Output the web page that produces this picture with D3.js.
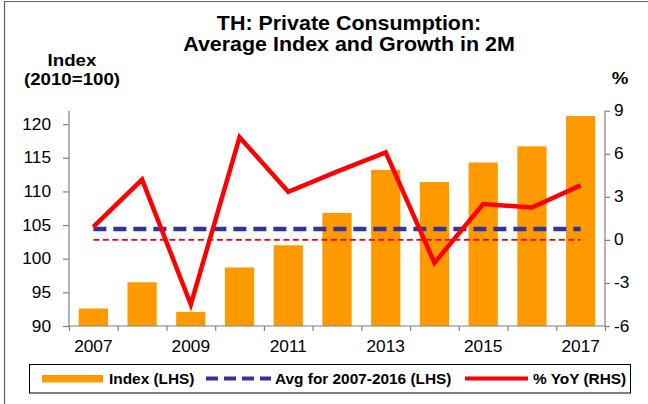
<!DOCTYPE html>
<html>
<head>
<meta charset="utf-8">
<script src="https://cdn.jsdelivr.net/npm/d3@7"></script>
<style>
  html, body { margin: 0; padding: 0; background: #fff; }
  svg { display: block; }
  text { font-family: "Liberation Sans", Arial, sans-serif; fill: #000; }
</style>
</head>
<body>
<svg id="chart" width="648" height="404"></svg>
<script>
// ---- Data ----
const years = ["2007","2008","2009","2010","2011","2012","2013","2014","2015","2016","2017"];
const indexValues = [92.6, 96.5, 92.1, 98.7, 102.0, 106.8, 113.2, 111.4, 114.3, 116.7, 121.2];
const yoyValues = [0.9, 4.2, -4.5, 7.15, 3.35, 4.75, 6.1, -1.6, 2.5, 2.25, 3.8];
const avgValue = [104.4];
const zeroRef = [0];
const leftTicks = [90, 95, 100, 105, 110, 115, 120];
const rightTicks = [-6, -3, 0, 3, 6, 9];
const xLabelYears = ["2007","2009","2011","2013","2015","2017"];
const titleLines = ["TH: Private Consumption:", "Average Index and Growth in 2M"];
const leftAxisTitle = ["Index", "(2010=100)"];
const rightAxisTitle = ["%"];
const legendLabels = ["Index (LHS)", "Avg for 2007-2016 (LHS)", "% YoY (RHS)"];

// ---- Layout ----
const svg = d3.select("#chart");
const SX = 1.1;
const plot = { x0: 69, x1: 605, yTop: 110.7, yBot: 326 };
const axisColor = "#808080";

const x = d3.scaleBand().domain(years).range([plot.x0, plot.x1]).paddingInner(0.4).paddingOuter(0.2);
const yL = d3.scaleLinear().domain([90, 122]).range([plot.yBot, plot.yTop]);
const yR = d3.scaleLinear().domain([-6, 9]).range([plot.yBot, plot.yTop]);
const cx = d => x(d) + x.bandwidth() / 2;

function txt(g, s, px, py, size, anchor, bold, sx) {
  return g.append("text")
    .attr("transform", `translate(${px},${py}) scale(${sx || SX},1)`)
    .attr("text-anchor", anchor)
    .attr("font-size", size)
    .attr("font-weight", bold ? "bold" : "normal")
    .text(s);
}

svg.append("rect").attr("width", 648).attr("height", 404).attr("fill", "#fff");

// frame
svg.append("path").attr("d", "M4.5,404 V1.5 H648").attr("fill", "none").attr("stroke", "#606060").attr("stroke-width", 1.2);

// titles
titleLines.forEach((t, i) => txt(svg, t, 349, 30 + i * 21, 19.5, "middle", true));
leftAxisTitle.forEach((t, i) => txt(svg, t, 72, 66 + i * 19, 17, "middle", true));
txt(svg, rightAxisTitle[0], 620, 84, 17, "middle", true);

// bars
svg.append("g").selectAll("rect").data(years).join("rect")
  .attr("x", d => x(d))
  .attr("width", x.bandwidth())
  .attr("y", (d, i) => yL(indexValues[i]))
  .attr("height", (d, i) => yL(90) - yL(indexValues[i]))
  .attr("fill", "#FF9900");

// avg line (blue dashed)
svg.append("line")
  .attr("x1", cx(years[0])).attr("x2", cx(years[years.length - 1]))
  .attr("y1", yL(avgValue[0])).attr("y2", yL(avgValue[0]))
  .attr("stroke", "#333399").attr("stroke-width", 4.5)
  .attr("stroke-dasharray", "13,7");

// zero reference (thin red dashed)
svg.append("line")
  .attr("x1", cx(years[0])).attr("x2", cx(years[years.length - 1]))
  .attr("y1", yR(zeroRef[0])).attr("y2", yR(zeroRef[0]))
  .attr("stroke", "#FF0000").attr("stroke-width", 1.6)
  .attr("stroke-dasharray", "6,3.5");

// yoy line
const line = d3.line().x((d, i) => cx(years[i])).y(d => yR(d));
svg.append("path").datum(yoyValues)
  .attr("d", line)
  .attr("fill", "none").attr("stroke", "#FF0000").attr("stroke-width", 4.5)
  .attr("stroke-linejoin", "miter");

// axes
const gL = svg.append("g").attr("transform", `translate(${plot.x0},0)`)
  .call(d3.axisLeft(yL).tickValues(leftTicks).tickSize(6).tickFormat(""));
const gR = svg.append("g").attr("transform", `translate(${plot.x1},0)`)
  .call(d3.axisRight(yR).tickValues(rightTicks).tickSize(5).tickFormat(""));
const boundaries = d3.range(years.length + 1).map(i => plot.x0 + i * x.step() - (i === 0 ? 0 : 0));
const xb = d3.scaleLinear().domain([0, years.length]).range([plot.x0, plot.x1]);
const gX = svg.append("g").attr("transform", `translate(0,${plot.yBot})`)
  .call(d3.axisBottom(xb).tickValues(d3.range(years.length + 1)).tickSize(5).tickFormat(""));
[gL, gR, gX].forEach(g => {
  g.select(".domain").attr("stroke", axisColor).attr("stroke-width", 1.2);
  g.selectAll(".tick line").attr("stroke", axisColor).attr("stroke-width", 1.2);
});
gL.select(".domain").attr("d", `M0,${plot.yTop}V${plot.yBot}`);
gR.select(".domain").attr("d", `M0,${plot.yTop}V${plot.yBot}`);
gX.select(".domain").attr("d", `M${plot.x0},0H${plot.x1}`);

// tick labels
leftTicks.forEach(v => txt(svg, String(v), 51, yL(v) + 5.5, 16, "end", false, 1.08));
rightTicks.forEach(v => txt(svg, String(v), 614, yR(v) + 5.5, 16, "start", false, 1.08));
xLabelYears.forEach(y => txt(svg, y, cx(y), 352, 16, "middle", false, 1.08));

// legend
const lg = svg.append("g");
lg.append("rect").attr("x", 29.5).attr("y", 364.5).attr("width", 601).attr("height", 28.5)
  .attr("fill", "#fff").attr("stroke", "#000").attr("stroke-width", 1);
lg.append("rect").attr("x", 42).attr("y", 375).attr("width", 61).attr("height", 7.5).attr("fill", "#FF9900");
txt(lg, legendLabels[0], 109, 384, 14, "start", true);
lg.append("line").attr("x1", 206).attr("x2", 271).attr("y1", 378.5).attr("y2", 378.5)
  .attr("stroke", "#333399").attr("stroke-width", 4).attr("stroke-dasharray", "12,6");
txt(lg, legendLabels[1], 275, 384, 14, "start", true);
lg.append("line").attr("x1", 465).attr("x2", 528).attr("y1", 378.5).attr("y2", 378.5)
  .attr("stroke", "#FF0000").attr("stroke-width", 4);
txt(lg, legendLabels[2], 533, 384, 14, "start", true);
</script>
</body>
</html>
